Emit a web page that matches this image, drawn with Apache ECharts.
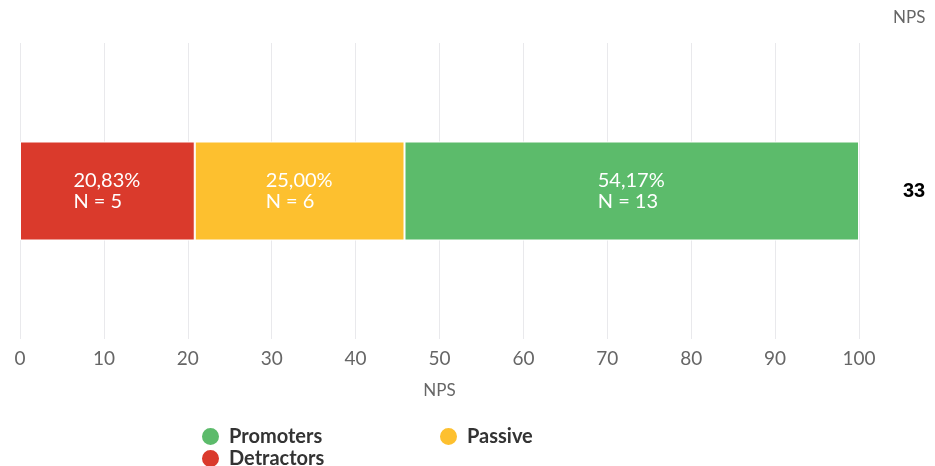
<!DOCTYPE html>
<html>
<head>
<meta charset="utf-8">
<script src="https://cdn.jsdelivr.net/npm/echarts@6/dist/echarts.min.js"></script>
<style>html,body{margin:0;padding:0;background:#fff;}#c{width:935px;height:466px;}</style>
</head>
<body>
<div id="c"></div>
<script>
const categories = ['NPS'];
const seriesNames = ['Detractors', 'Passive', 'Promoters'];
const percents = [20.83, 25.00, 54.17];
const counts = [5, 6, 13];
const npsScore = ['33'];
const colors = { Detractors: '#DA3A2C', Passive: '#FDC02F', Promoters: '#5CBB6B' };

const chart = echarts.init(document.getElementById('c'));
const fmtPct = v => v.toFixed(2).replace('.', ',') + '%';

const series = seriesNames.map((name, i) => ({
  name: name,
  type: 'bar',
  stack: 'nps',
  barWidth: 99,
  data: [percents[i]],
  itemStyle: { color: colors[name], borderColor: '#fff', borderWidth: 1 },
  label: {
    show: true,
    position: 'inside',
    formatter: () => '{a|' + fmtPct(percents[i]) + '}\n{a|N = ' + counts[i] + '}',
    rich: {
      a: { color: '#fff', fontFamily: 'Lato', fontSize: 20, lineHeight: 21, width: 68, align: 'left' }
    }
  }
}));

const legendBase = {
  icon: 'circle', itemWidth: 19, itemHeight: 19, itemGap: 10, padding: 0,
  textStyle: { fontFamily: 'Lato', fontSize: 20, fontWeight: 'bold', color: '#333', padding: [0, 0, 0, 4] }
};

chart.setOption({
  animation: false,
  textStyle: { fontFamily: 'Lato' },
  grid: { left: 20, right: 76, top: 43, bottom: 127, containLabel: false, outerBoundsMode: 'none' },
  xAxis: {
    type: 'value', min: 0, max: 100, interval: 10,
    name: 'NPS', nameLocation: 'middle', nameGap: 43,
    nameTextStyle: { color: '#666', fontSize: 17, fontFamily: 'Lato' },
    axisLine: { show: false }, axisTick: { show: false },
    axisLabel: { color: '#666', fontSize: 19, margin: 10, fontFamily: 'Lato' },
    splitLine: { show: true, lineStyle: { color: '#e9e9ec', width: 1 } }
  },
  yAxis: [
    {
      type: 'category', data: categories,
      axisLine: { show: false }, axisTick: { show: false }, axisLabel: { show: false }
    },
    {
      type: 'category', data: npsScore, position: 'right',
      name: 'NPS', nameLocation: 'end', nameGap: 17,
      nameTextStyle: { color: '#666', fontSize: 17, fontFamily: 'Lato', align: 'left', padding: [0, 0, 0, 34] },
      axisLine: { show: false }, axisTick: { show: false },
      axisLabel: { color: '#000', fontWeight: 'bold', fontSize: 20, margin: 44, fontFamily: 'Liberation Sans' }
    }
  ],
  legend: [
    Object.assign({ data: ['Promoters'], left: 200, top: 426 }, legendBase),
    Object.assign({ data: ['Passive'], left: 438, top: 426 }, legendBase),
    Object.assign({ data: ['Detractors'], left: 200, top: 448 }, legendBase)
  ],
  series: series
});
</script>
</body>
</html>
